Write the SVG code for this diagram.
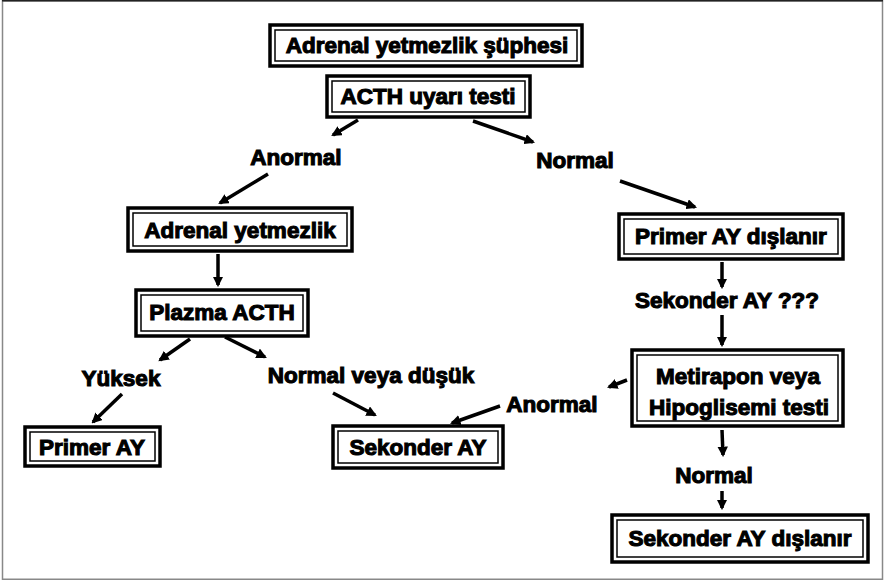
<svg xmlns="http://www.w3.org/2000/svg" width="885" height="582" viewBox="0 0 885 582">
<style>
.frame{fill:#fff;stroke:#888;stroke-width:1.5}
.box{fill:#fff;stroke:#000;stroke-width:3.5}
.inner{fill:none;stroke:#000;stroke-width:1.5}
.t{font-family:"Liberation Sans",Arial,sans-serif;font-weight:bold;font-size:22.5px;fill:#000;stroke:#000;stroke-width:1.1;text-anchor:middle}
.c{stroke:#000;stroke-width:3.5;fill:none;marker-end:url(#ah)}
</style>
<defs>
<marker id="ah" viewBox="0 0 10 10" refX="8" refY="5" markerWidth="3" markerHeight="3" orient="auto" markerUnits="strokeWidth">
<path d="M0,0 L10,5 L0,10 z" fill="#000"/>
</marker>
</defs>
<rect class="frame" x="2.5" y="0.75" width="880" height="578.5"/>
<line x1="2" y1="0.75" x2="883" y2="0.75" stroke="#222" stroke-width="1.5"/>

<g id="connectors">
<line class="c" x1="358" y1="120" x2="333" y2="135"/>
<line class="c" x1="268" y1="174" x2="220" y2="203"/>
<line class="c" x1="473" y1="121" x2="533" y2="142"/>
<line class="c" x1="620" y1="181" x2="695" y2="207"/>
<line class="c" x1="218" y1="254" x2="218" y2="285"/>
<line class="c" x1="722" y1="262" x2="722" y2="287"/>
<line class="c" x1="722" y1="315" x2="722" y2="345"/>
<line class="c" x1="190" y1="339" x2="160" y2="360"/>
<line class="c" x1="122" y1="394" x2="93" y2="422"/>
<line class="c" x1="225" y1="337" x2="265" y2="357"/>
<line class="c" x1="333" y1="393" x2="375" y2="415"/>
<line class="c" x1="627" y1="380" x2="609" y2="387"/>
<line class="c" x1="500" y1="406" x2="452" y2="423"/>
<line class="c" x1="722" y1="430" x2="723" y2="455"/>
<line class="c" x1="722" y1="491" x2="722" y2="508"/>
</g>

<g id="n1"><rect class="box" x="270" y="25" width="312" height="41"/><rect class="inner" x="275" y="30" width="302" height="31"/><text class="t" x="427" y="53">Adrenal yetmezlik şüphesi</text></g>
<g id="n2"><rect class="box" x="327" y="76" width="203" height="41"/><rect class="inner" x="332" y="81" width="193" height="31"/><text class="t" x="428" y="104">ACTH uyarı testi</text></g>
<g id="l1"><text class="t" x="296" y="165">Anormal</text></g>
<g id="l2"><text class="t" x="575" y="168">Normal</text></g>
<g id="n3"><rect class="box" x="128" y="208" width="224" height="43"/><rect class="inner" x="133" y="213" width="214" height="33"/><text class="t" x="240" y="238">Adrenal yetmezlik</text></g>
<g id="n4"><rect class="box" x="619" y="214" width="224" height="45"/><rect class="inner" x="624" y="219" width="214" height="35"/><text class="t" x="731" y="244">Primer AY dışlanır</text></g>
<g id="n5"><rect class="box" x="136" y="290" width="172" height="46"/><rect class="inner" x="141" y="295" width="162" height="36"/><text class="t" x="222" y="320">Plazma ACTH</text></g>
<g id="l3"><text class="t" x="727" y="308">Sekonder AY ???</text></g>
<g id="l4"><text class="t" x="121" y="386">Yüksek</text></g>
<g id="l5"><text class="t" x="371" y="383">Normal veya düşük</text></g>
<g id="n6"><rect class="box" x="632" y="350" width="211" height="76"/><rect class="inner" x="637" y="355" width="201" height="66"/><text class="t" x="738" y="384">Metirapon veya</text><text class="t" x="739" y="415">Hipoglisemi testi</text></g>
<g id="l6"><text class="t" x="552" y="412">Anormal</text></g>
<g id="n7"><rect class="box" x="25" y="427" width="135" height="39"/><rect class="inner" x="30" y="432" width="125" height="29"/><text class="t" x="92" y="455">Primer AY</text></g>
<g id="n8"><rect class="box" x="333" y="426" width="170" height="42"/><rect class="inner" x="338" y="431" width="160" height="32"/><text class="t" x="418" y="455">Sekonder AY</text></g>
<g id="l7"><text class="t" x="714" y="483">Normal</text></g>
<g id="n9"><rect class="box" x="612" y="515" width="256" height="47"/><rect class="inner" x="617" y="520" width="246" height="37"/><text class="t" x="740" y="546">Sekonder AY dışlanır</text></g>
</svg>
